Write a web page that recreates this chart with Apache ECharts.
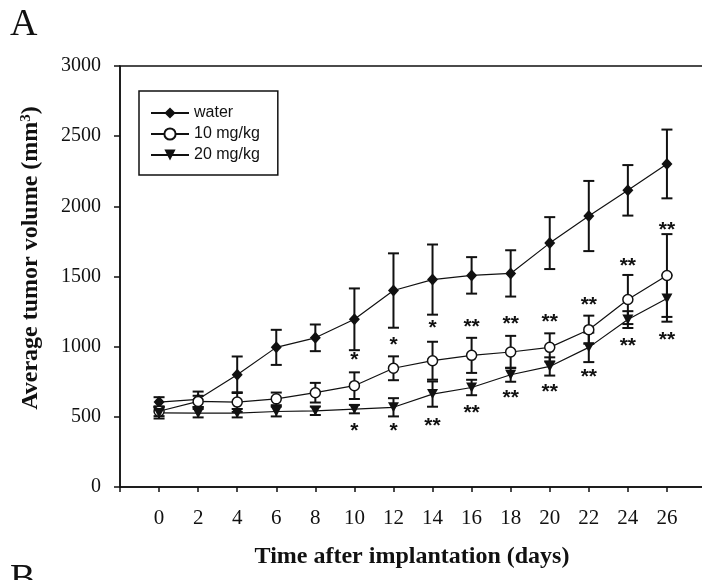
<!DOCTYPE html>
<html><head><meta charset="utf-8">
<script src="https://cdn.jsdelivr.net/npm/echarts@6/dist/echarts.min.js"></script>
<style>html,body{margin:0;padding:0;background:#fff}#c{width:702px;height:580px}</style>
</head><body><div id="c"></div><script>
// ---- data ----
const days = [0, 2, 4, 6, 8, 10, 12, 14, 16, 18, 20, 22, 24, 26];
const water     = [605, 625, 800, 995, 1063, 1195, 1400, 1478, 1508, 1522, 1738, 1931, 2114, 2302];
const waterErr  = [35, 55, 130, 125, 95, 220, 265, 250, 130, 165, 185, 250, 180, 245];
const dose10    = [540, 610, 605, 628, 672, 722, 846, 900, 938, 962, 995, 1121, 1336, 1507];
const dose10Err = [35, 40, 70, 45, 70, 95, 85, 135, 125, 115, 100, 100, 175, 295];
const dose20    = [528, 526, 526, 538, 543, 555, 568, 662, 709, 800, 859, 995, 1193, 1343];
const dose20Err = [40, 30, 30, 35, 30, 30, 65, 90, 55, 50, 65, 105, 60, 165];
const seriesNames = ['water', '10 mg/kg', '20 mg/kg'];
// significance marks (value positions)
const sigDays    = [10, 12, 14, 16, 18, 20, 22, 24, 26];
const sigAbove   = ['*', '*', '*', '**', '**', '**', '**', '**', '**'];
const sigAboveY  = [936, 1045, 1164, 1174, 1198, 1209, 1329, 1609, 1866];
const sigBelow   = ['*', '*', '**', '**', '**', '**', '**', '**', '**'];
const sigBelowY  = [431, 431, 470, 564, 671, 709, 819, 1038, 1081];
const yTicks = [0, 500, 1000, 1500, 2000, 2500, 3000];
const xLabelMin = 0, xLabelMax = 26;

const INK = '#111';
const SERIF = '"Liberation Serif", "Times New Roman", serif';
const chart = echarts.init(document.getElementById('c'), null, {renderer: 'canvas'});

function errSeries(vals, errs, z) {
  return {
    type: 'custom', silent: true, z: z,
    data: days.map((d, i) => [d, vals[i], errs[i]]),
    renderItem: function (params, api) {
      const x = api.value(0), y = api.value(1), e = api.value(2);
      const t = api.coord([x, y + e]), b = api.coord([x, y - e]);
      const w = 5.5, st = {stroke: INK, lineWidth: 2};
      return {type: 'group', children: [
        {type: 'line', shape: {x1: t[0], y1: t[1], x2: b[0], y2: b[1]}, style: st},
        {type: 'line', shape: {x1: t[0] - w, y1: t[1], x2: t[0] + w, y2: t[1]}, style: st},
        {type: 'line', shape: {x1: b[0] - w, y1: b[1], x2: b[0] + w, y2: b[1]}, style: st}
      ]};
    }
  };
}
function starSeries(ys, labels) {
  return {
    type: 'custom', silent: true, z: 8,
    data: sigDays.map((d, i) => [d, ys[i]]),
    renderItem: function (params, api) {
      const p = api.coord([api.value(0), api.value(1)]);
      return {type: 'text', x: p[0], y: p[1] + 5, style: {
        text: labels[params.dataIndex], fill: INK,
        font: 'bold 21px "Liberation Sans", Arial, sans-serif',
        align: 'center', verticalAlign: 'middle'}};
    }
  };
}

const option = {
  animation: false,
  backgroundColor: '#fff',
  grid: {left: 120, width: 586, top: 66, bottom: 93, outerBoundsMode: 'none', containLabel: false,
         show: true, borderColor: INK, borderWidth: 1.5, backgroundColor: 'transparent'},
  legend: {
    data: seriesNames, orient: 'vertical', left: 139, top: 91,
    borderColor: INK, borderWidth: 1.5, padding: [14, 18, 12, 11], itemGap: 5,
    itemWidth: 38, itemHeight: 14,
    textStyle: {fontFamily: '"Liberation Sans", Arial, sans-serif', fontSize: 16, color: INK}
  },
  xAxis: {
    type: 'value', min: -2, max: 28, interval: 2,
    axisLine: {onZero: false, lineStyle: {color: INK, width: 1.5}},
    axisTick: {length: 5, lineStyle: {color: INK, width: 1.5}},
    splitLine: {show: false},
    axisLabel: {margin: 21, color: INK, fontFamily: SERIF, fontSize: 21,
      formatter: v => (v < xLabelMin || v > xLabelMax) ? '' : String(v)}
  },
  yAxis: {
    type: 'value', min: yTicks[0], max: yTicks[yTicks.length - 1], interval: 500,
    axisLine: {show: true, onZero: false, lineStyle: {color: INK, width: 1.5}},
    axisTick: {show: true, length: 6, lineStyle: {color: INK, width: 1.5}},
    splitLine: {show: false},
    axisLabel: {margin: 19, color: INK, fontFamily: SERIF, fontSize: 20, formatter: v => String(v)}
  },
  series: [
    errSeries(water, waterErr, 2),
    errSeries(dose10, dose10Err, 2),
    errSeries(dose20, dose20Err, 2),
    {type: 'line', name: seriesNames[0], z: 5, data: days.map((d, i) => [d, water[i]]),
     symbol: 'diamond', symbolSize: [11, 12], lineStyle: {color: INK, width: 1.2},
     itemStyle: {color: INK}},
    {type: 'line', name: seriesNames[1], z: 5, data: days.map((d, i) => [d, dose10[i]]),
     symbol: 'circle', symbolSize: 10, lineStyle: {color: INK, width: 1.2},
     itemStyle: {color: '#fff', borderColor: INK, borderWidth: 1.5}},
    {type: 'line', name: seriesNames[2], z: 5, data: days.map((d, i) => [d, dose20[i]]),
     symbol: 'triangle', symbolRotate: 180, symbolSize: [11, 10], lineStyle: {color: INK, width: 1.2},
     itemStyle: {color: INK}},
    starSeries(sigAboveY, sigAbove),
    starSeries(sigBelowY, sigBelow)
  ],
  graphic: [
    {type: 'text', left: 10, top: 6, style: {text: 'A', font: '38px ' + SERIF, fill: INK}},
    {type: 'text', left: 10, top: 561, style: {text: 'B', font: '38px ' + SERIF, fill: INK}},
    {type: 'text', x: 31, y: 258, rotation: Math.PI / 2,
     style: {text: 'Average tumor volume (mm{sup|3})', fill: INK,
       font: 'bold 24px ' + SERIF, align: 'center', verticalAlign: 'middle',
       rich: {sup: {fontSize: 15, fontWeight: 'bold', fontFamily: SERIF, verticalAlign: 'top', padding: [0, 0, 8, 0]}}}},
    {type: 'text', x: 412, y: 557,
     style: {text: 'Time after implantation (days)', fill: INK,
       font: 'bold 24px ' + SERIF, align: 'center', verticalAlign: 'middle'}}
  ]
};
chart.setOption(option);
</script></body></html>
